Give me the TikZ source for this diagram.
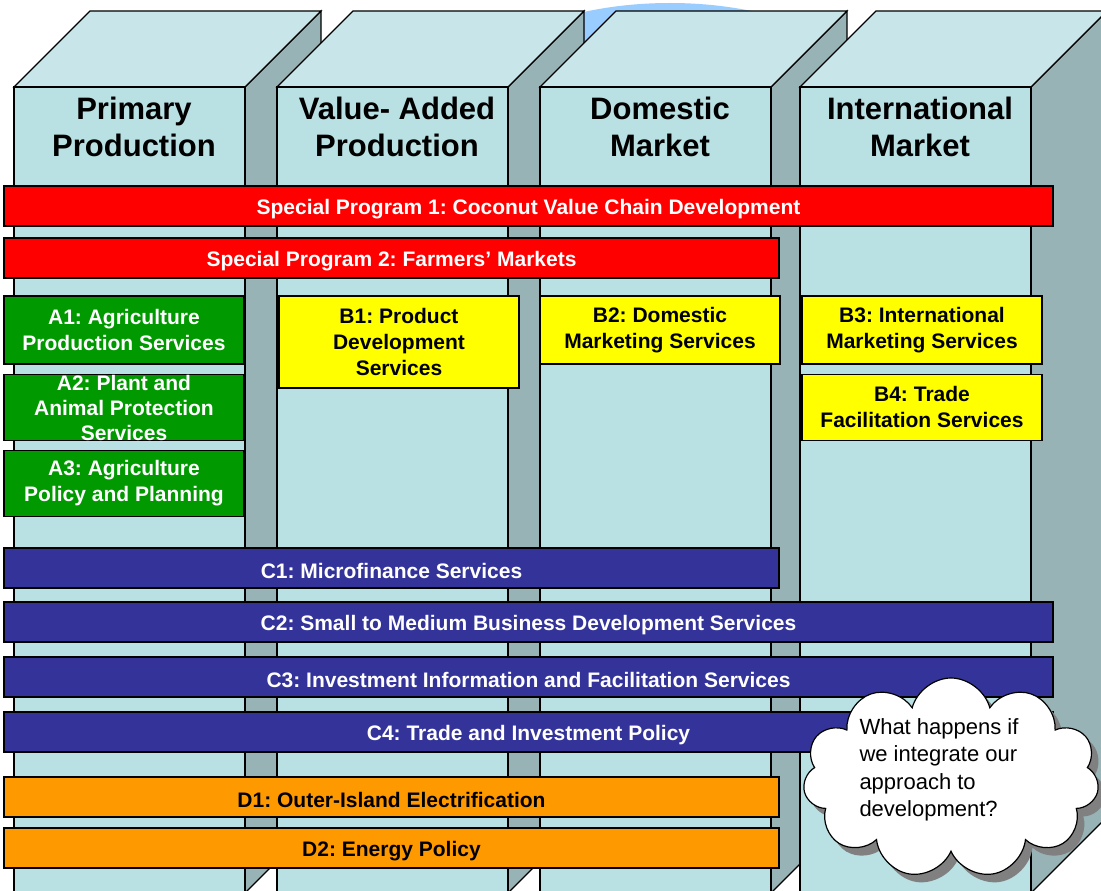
\documentclass[tikz,border=0pt]{standalone}
\usepackage{fontspec}
\setmainfont{Liberation Sans}
\usetikzlibrary{positioning,shapes.symbols,shadows}
\frenchspacing

\definecolor{frontcol}{HTML}{B9E0E3}
\definecolor{topcol}{HTML}{C8E6E9}
\definecolor{sidecol}{HTML}{97B3B6}
\definecolor{globecol}{HTML}{99CCFF}
\definecolor{progred}{HTML}{FF0000}
\definecolor{agrigreen}{HTML}{009900}
\definecolor{bizyellow}{HTML}{FFFF00}
\definecolor{finblue}{HTML}{333399}
\definecolor{energyorange}{HTML}{FF9900}

\tikzset{
  pillarline/.style={draw=black, line width=1.1pt, line join=miter},
  pillartitle/.style={align=center, font=\fontsize{31}{37}\selectfont\bfseries},
  bar/.style={draw, line width=1.2pt, rectangle, inner sep=0pt, align=center,
    font=\fontsize{21}{26}\selectfont\bfseries,
    execute at begin node={\rule{0pt}{22pt}}},
  progbar/.style={bar, fill=progred, text=white, minimum height=40pt},
  agribox/.style={bar, fill=agrigreen, text=white, minimum width=240pt},
  bizbox/.style={bar, fill=bizyellow, text=black, minimum width=240pt},
  finbar/.style={bar, fill=finblue, text=white, minimum height=40pt},
  energybar/.style={bar, fill=energyorange, text=black, minimum height=40pt}
}

\begin{document}
\begin{tikzpicture}[x=1pt, y=-1pt]
\useasboundingbox (0,0) rectangle (1101,891);
\fill[white] (0,0) rectangle (1101,891);

% globe behind the pillars
\fill[globecol] (670,150) ellipse [x radius=250pt, y radius=147pt];

% the four pillars
\foreach \px/\ttl [count=\i] in {14/{Primary\\Production},277/{Value- Added\\Production},540/{Domestic\\Market},800/{International\\Market}}{
  \path[pillarline, fill=sidecol] (\px+231,87) -- (\px+307,11) -- (\px+307,817) -- (\px+231,893) -- cycle;
  \path[pillarline, fill=topcol] (\px,87) -- (\px+76,11) -- (\px+307,11) -- (\px+231,87) -- cycle;
  \path[pillarline, fill=frontcol] (\px,87) rectangle (\px+231,893);
  \node[pillartitle] (col\i) at (\px+120,127) {\ttl};
}

% special programs
\node[progbar, minimum width=1049pt] (sp1) at (528.5,206) {Special Program 1: Coconut Value Chain Development};
\node[progbar, minimum width=775pt] (sp2) at (391.5,258) {Special Program 2: Farmers' Markets};

% production and marketing services
\node[agribox, minimum height=68pt] (a1) at (124,330) {A1: Agriculture\\Production Services};
\node[agribox, minimum height=66pt, below=9pt of a1,
  label={[align=center, text=white, yshift=-1pt, font=\fontsize{21}{25}\selectfont\bfseries]center:{A2: Plant and\\Animal Protection\\Services}}] (a2) {};
\node[agribox, minimum height=66pt, below=9pt of a2] (a3) {A3: Agriculture\\Policy and Planning};

\node[bizbox, minimum height=92pt, right=33.8pt of a1.north east, anchor=north west] (b1) {B1: Product\\Development\\Services};
\node[bizbox, minimum height=68pt, right=19.8pt of b1.north east, anchor=north west] (b2) {B2: Domestic\\Marketing Services};
\node[bizbox, minimum height=68pt, right=20.8pt of b2.north east, anchor=north west] (b3) {B3: International\\Marketing Services};
\node[bizbox, minimum height=66pt, below=9pt of b3] (b4) {B4: Trade\\Facilitation Services};

% finance and investment
\node[finbar, minimum width=775pt] (c1) at (391.5,568) {C1: Microfinance Services};
\node[finbar, minimum width=1049pt] (c2) at (528.5,622) {C2: Small to Medium Business Development Services};
\node[finbar, minimum width=1049pt] (c3) at (528.5,677) {C3: Investment Information and Facilitation Services};
\node[finbar, minimum width=1049pt] (c4) at (528.5,732) {C4: Trade and Investment Policy};

% energy
\node[energybar, minimum width=775pt] (d1) at (391.5,797) {D1: Outer-Island Electrification};
\node[energybar, minimum width=775pt] (d2) at (391.5,848) {D2: Energy Policy};

% thought cloud
\node[cloud, cloud puffs=11, aspect=1.5, draw, line width=1.2pt, fill=white,
  minimum width=296pt, minimum height=200pt,
  drop shadow={shadow xshift=7pt, shadow yshift=-8pt, fill=gray, opacity=1},
  label={[align=left, xshift=-12pt, yshift=8pt, font=\fontsize{22}{27.5}\selectfont]center:{What happens if\\we integrate our\\approach to\\development?}}]
  (question) at (951,778) {};
\end{tikzpicture}
\end{document}
